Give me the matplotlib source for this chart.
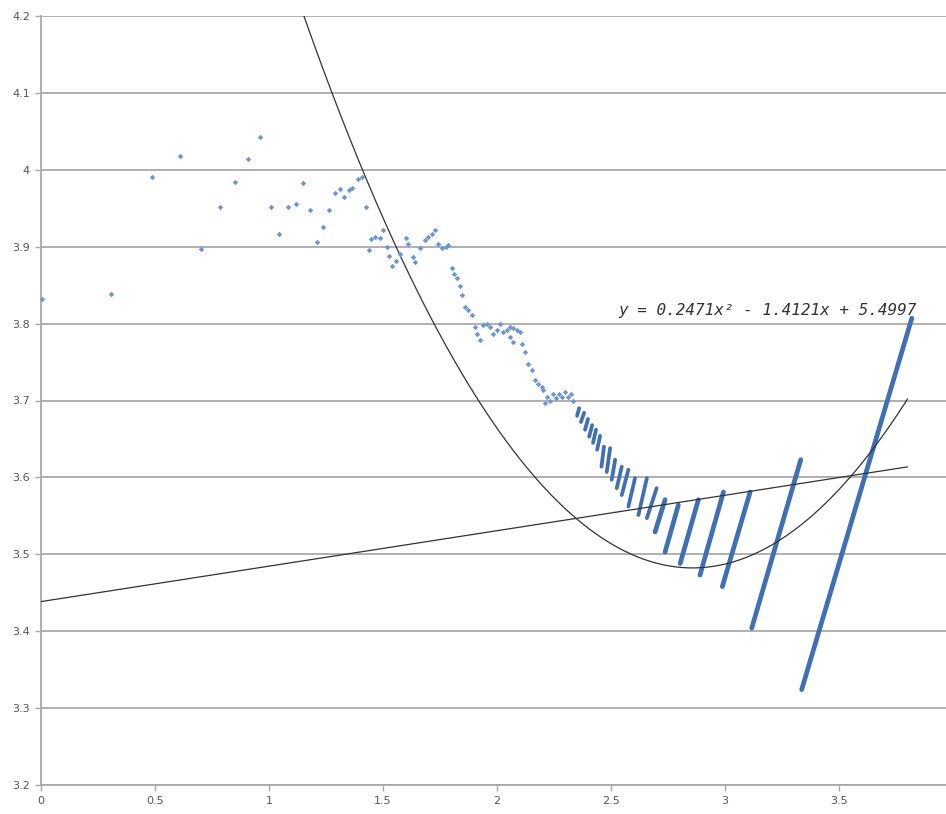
import numpy as np
import matplotlib
matplotlib.use("Agg")
import matplotlib.pyplot as plt

# Scatter points (x, y)
pts_x = [0.006, 0.307, 0.485, 0.610, 0.700, 0.785, 0.852, 0.908, 0.962, 1.009,
         1.045, 1.085, 1.118, 1.150, 1.181, 1.211, 1.238, 1.263, 1.289, 1.311,
         1.329, 1.352, 1.366, 1.390, 1.407, 1.425, 1.439, 1.447, 1.465, 1.487,
         1.501, 1.519, 1.528, 1.538, 1.557, 1.575, 1.601, 1.611, 1.633, 1.640,
         1.662, 1.684, 1.699, 1.714, 1.728, 1.743, 1.757, 1.776, 1.786, 1.801,
         1.811, 1.823, 1.838, 1.845, 1.860, 1.874, 1.889, 1.904, 1.911, 1.925,
         1.940, 1.954, 1.969, 1.984, 1.998, 2.013, 2.028, 2.042, 2.057, 2.057,
         2.071, 2.070, 2.086, 2.101, 2.108, 2.123, 2.137, 2.152, 2.167, 2.181,
         2.196, 2.203, 2.211, 2.219, 2.232, 2.246, 2.259, 2.272, 2.285, 2.298,
         2.311, 2.325, 2.333]
pts_y = [3.832, 3.839, 3.990, 4.018, 3.897, 3.952, 3.984, 4.014, 4.043, 3.951,
         3.917, 3.951, 3.956, 3.983, 3.948, 3.906, 3.925, 3.948, 3.970, 3.975,
         3.964, 3.974, 3.976, 3.988, 3.991, 3.952, 3.896, 3.910, 3.912, 3.911,
         3.922, 3.900, 3.888, 3.875, 3.882, 3.891, 3.911, 3.904, 3.887, 3.880,
         3.898, 3.909, 3.912, 3.917, 3.922, 3.904, 3.898, 3.900, 3.902, 3.872,
         3.865, 3.859, 3.849, 3.837, 3.822, 3.818, 3.811, 3.796, 3.787, 3.779,
         3.798, 3.800, 3.796, 3.787, 3.792, 3.800, 3.789, 3.792, 3.796, 3.783,
         3.794, 3.776, 3.792, 3.789, 3.774, 3.763, 3.748, 3.740, 3.727, 3.722,
         3.718, 3.714, 3.697, 3.705, 3.700, 3.708, 3.703, 3.709, 3.705, 3.711,
         3.704, 3.708, 3.700]

# Slanted segments (low end -> high end)
seg_x0 = [2.351, 2.368, 2.386, 2.404, 2.421, 2.439, 2.458, 2.481, 2.503, 2.525,
          2.547, 2.576, 2.620, 2.657, 2.693, 2.737, 2.803, 2.890, 2.988, 3.117, 3.336]
seg_y0 = [3.680, 3.672, 3.662, 3.653, 3.645, 3.636, 3.614, 3.607, 3.597, 3.586,
          3.577, 3.562, 3.551, 3.547, 3.529, 3.503, 3.488, 3.473, 3.458, 3.404, 3.324]
seg_x1 = [2.360, 2.382, 2.399, 2.417, 2.434, 2.452, 2.469, 2.496, 2.518, 2.547,
          2.576, 2.605, 2.657, 2.700, 2.737, 2.795, 2.883, 2.993, 3.110, 3.332, 3.819]
seg_y1 = [3.690, 3.684, 3.676, 3.668, 3.662, 3.654, 3.640, 3.638, 3.623, 3.614,
          3.610, 3.599, 3.599, 3.586, 3.571, 3.564, 3.571, 3.581, 3.581, 3.623, 3.807]

# Trendlines
quad_coef = [0.2471, -1.4121, 5.4997]
lin_coef = [0.0461, 3.4385]
trend_xmax = 3.8
equation = "y = 0.2471x² - 1.4121x + 5.4997"

x_ticks = [0, 0.5, 1, 1.5, 2, 2.5, 3, 3.5]
x_tick_labels = ["0", "0.5", "1", "1.5", "2", "2.5", "3", "3.5"]
y_ticks = [3.2, 3.3, 3.4, 3.5, 3.6, 3.7, 3.8, 3.9, 4.0, 4.1, 4.2]
y_tick_labels = ["3.2", "3.3", "3.4", "3.5", "3.6", "3.7", "3.8", "3.9", "4", "4.1", "4.2"]

fig = plt.figure(figsize=(9.46, 8.14), dpi=100)
ax = fig.add_axes([41 / 946, 29 / 814, 1 - 41 / 946, (785 - 16) / 814])
ax.set_xlim(0, 3.969)
ax.set_ylim(3.2, 4.2)

grid_c = "#b0b0b0"
ax.set_yticks(y_ticks)
ax.set_yticklabels(y_tick_labels)
ax.set_xticks(x_ticks)
ax.set_xticklabels(x_tick_labels)
ax.yaxis.grid(True, color=grid_c, linewidth=1.4)
ax.set_axisbelow(True)
for s in ["top", "right"]:
    ax.spines[s].set_visible(False)
for s in ["left", "bottom"]:
    ax.spines[s].set_color("#a8a8a8")
    ax.spines[s].set_linewidth(1.3)
ax.tick_params(axis="both", direction="out", length=4, width=1.0, color="#a8a8a8",
               labelsize=8, labelcolor="#555555", pad=4)

xx = np.linspace(0, trend_xmax, 400)
ax.plot(xx, np.polyval(quad_coef, xx), color="#333333", linewidth=0.9, zorder=3)
ax.plot(xx, np.polyval(lin_coef, xx), color="#333333", linewidth=0.9, zorder=3)

for i, (a, b, c, d) in enumerate(zip(seg_x0, seg_y0, seg_x1, seg_y1)):
    lw = 2.7 if i < 14 else 3.4
    ax.plot([a, c], [b, d], color="#3f70b4", linewidth=lw, solid_capstyle="round", zorder=2)

ax.plot(pts_x, pts_y, linestyle="none", marker="D", markersize=2.8,
        color="#6f97cf", markeredgewidth=0, zorder=4, clip_on=False)

ax.text(3.84, 3.817, equation, ha="right", va="center", fontsize=11.5,
        family="DejaVu Sans Mono", style="italic", color="#333333")

fig.savefig("out.png", dpi=100)
